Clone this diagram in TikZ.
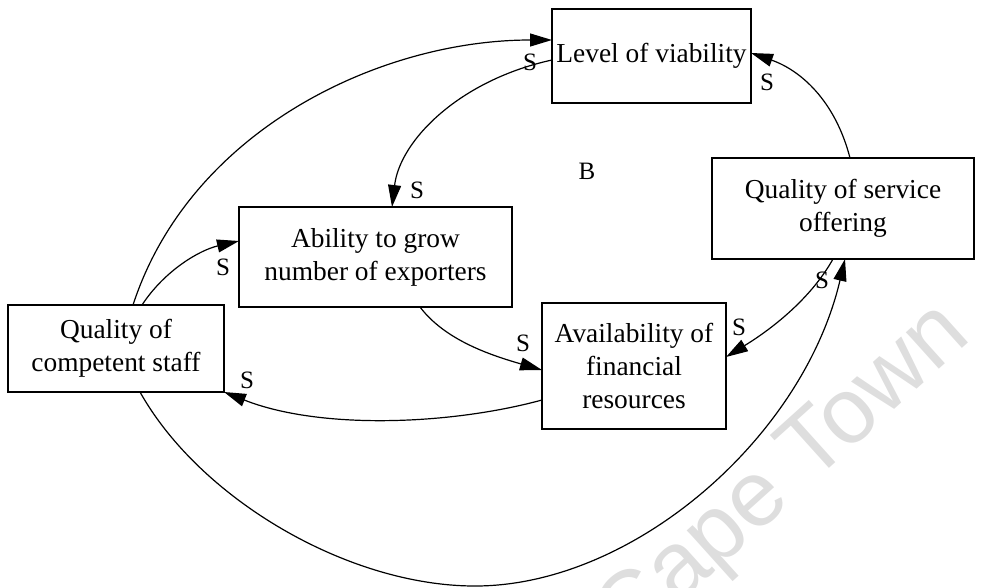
\documentclass[tikz,border=0pt]{standalone}
\usepackage{fontspec}
\setmainfont{Liberation Serif}
\newfontfamily\wmfont{Liberation Sans}
\usetikzlibrary{arrows.meta}
\begin{document}
\begin{tikzpicture}[x=1pt,y=-1pt,
  box/.style={draw, line width=1.3pt, inner sep=0pt, outer sep=0pt, align=center,
    font=\fontsize{27.4}{33}\selectfont},
  lbl/.style={inner sep=0pt, font=\fontsize{25}{25}\selectfont},
  link/.style={line width=1.2pt, -{Triangle[length=22pt,width=13pt]}}]
\useasboundingbox (0,0) rectangle (984,587);

% faint background lettering
\node[rotate=42, text=black!13, inner sep=0pt, font=\wmfont\fontsize{93}{93}\selectfont] (wm) at (785,478) {Cape Town};

% variables
\node[box, minimum width=199pt, minimum height=94pt] (viab) at (651.5,56) {Level of viability};
\node[box, minimum width=262pt, minimum height=101pt] (serv) at (843,208.5) {Quality of service\\offering};
\node[box, minimum width=273pt, minimum height=100pt] (abil) at (375.5,257) {Ability to grow\\number of exporters};
\node[box, minimum width=216pt, minimum height=87pt] (staff) at (116,348.5) {Quality of\\competent staff};
\node[box, minimum width=184pt, minimum height=126pt] (avail) at (634,366) {Availability of\\financial\\resources};

% causal links
\draw[link] ([xshift=17pt]staff.north) .. controls (190,130) and (380,40) .. ([yshift=16pt]viab.west);
\draw[link] ([yshift=-4pt]viab.west) .. controls (460,80) and (400,140) .. ([xshift=16.5pt]abil.north);
\draw[link] ([xshift=26pt]staff.north) .. controls (165,270) and (200,250) .. ([yshift=16pt]abil.west);
\draw[link] ([xshift=44.5pt]abil.south) .. controls (445,340) and (490,355) .. ([yshift=-4pt]avail.west);
\draw[link] ([yshift=-34pt]avail.west) .. controls (450,425) and (320,430) .. (staff.south east);
\draw[link] ([xshift=-10pt]serv.south) .. controls (810,300) and (770,330) .. ([yshift=9pt]avail.east);
\draw[link] ([xshift=24pt]staff.south) .. controls (200,499) and (348,586) .. (475,586)
  .. controls (633,586) and (803,438) .. ([xshift=2pt]serv.south);
\draw[link] ([xshift=7pt]serv.north) .. controls (835,100) and (800,70) .. ([yshift=3pt]viab.east);

% polarity labels
\node[lbl] (s1) at (530,62) {S};
\node[lbl] (s2) at (417,190) {S};
\node[lbl] (s3) at (223,267) {S};
\node[lbl] (s4) at (523,343) {S};
\node[lbl] (s5) at (247,380) {S};
\node[lbl] (s6) at (739,327) {S};
\node[lbl] (s7) at (822,280) {S};
\node[lbl] (s8) at (767,82) {S};
\node[lbl] (loopB) at (587,171) {B};
\end{tikzpicture}
\end{document}
